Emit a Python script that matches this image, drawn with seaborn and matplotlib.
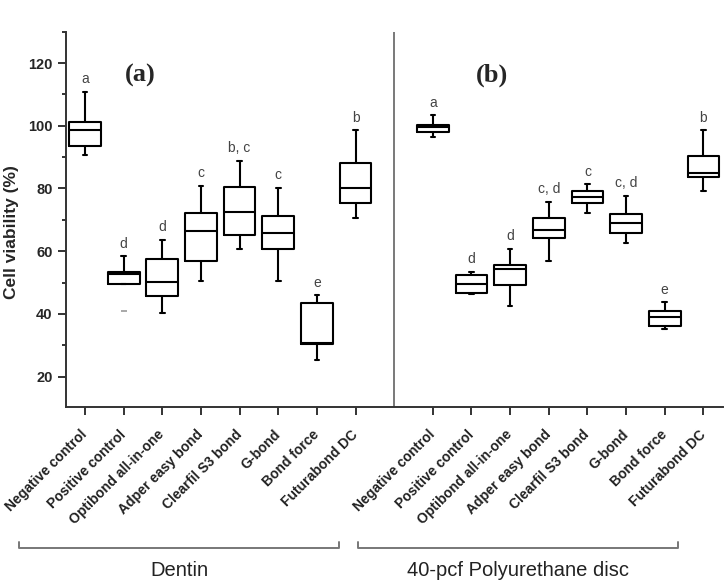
import numpy as np
import pandas as pd
import seaborn as sns
import matplotlib.pyplot as plt
from matplotlib.lines import Line2D
from matplotlib.ticker import AutoMinorLocator

materials = ['Negative control', 'Positive control', 'Optibond all-in-one', 'Adper easy bond',
             'Clearfil S3 bond', 'G-bond', 'Bond force', 'Futurabond DC']

# five-number summaries: Dentin (a), then polyurethane disc (b)
dentin_min = [90.8, 49.5, 40.2, 50.5, 60.8, 50.4, 25.3, 70.6]
dentin_q1 = [93.5, 49.5, 45.8, 57.0, 65.3, 60.8, 30.4, 75.3]
dentin_med = [98.7, 52.6, 50.3, 66.5, 72.4, 65.9, 30.6, 80.2]
dentin_q3 = [101.1, 53.4, 57.4, 72.2, 80.5, 71.2, 43.6, 88.2]
dentin_max = [110.8, 58.3, 63.7, 80.9, 88.8, 80.3, 45.9, 98.6]
dentin_letters = ['a', 'd', 'd', 'c', 'b, c', 'c', 'e', 'b']

pu_min = [96.4, 46.3, 42.5, 56.9, 72.3, 62.5, 35.2, 79.1]
pu_q1 = [98.0, 46.6, 49.2, 64.3, 75.5, 65.9, 36.2, 83.7]
pu_med = [99.6, 49.5, 54.2, 66.7, 77.3, 69.0, 38.9, 85.0]
pu_q3 = [100.4, 52.4, 55.7, 70.7, 79.1, 71.9, 40.9, 90.5]
pu_max = [103.4, 53.4, 60.8, 75.7, 81.4, 77.6, 43.7, 98.6]
pu_letters = ['a', 'd', 'd', 'c, d', 'c', 'c, d', 'e', 'b']

# single outlier shown for the dentin positive control
outlier_pos = [1]
outlier_val = [41.0]

dentin_pos = list(range(8))
pu_pos = list(range(9, 17))

rows = []
for pos, stats in zip(dentin_pos + pu_pos,
                      zip(dentin_min + pu_min, dentin_q1 + pu_q1, dentin_med + pu_med,
                          dentin_q3 + pu_q3, dentin_max + pu_max)):
    for v in stats:
        rows.append({'pos': pos, 'viability': v})
df = pd.DataFrame(rows)

sns.set_style('ticks')
plt.rcParams['font.family'] = ['Liberation Sans', 'DejaVu Sans']

fig = plt.figure(figsize=(7.25, 5.84), dpi=100)
ax = fig.add_axes([0.0906, 0.3026, 0.9062, 0.6431])

sns.boxplot(data=df, x='pos', y='viability', native_scale=True, ax=ax,
            fill=False, color='black', linecolor='black', linewidth=1.5,
            width=0.82, whis=(0, 100), capwidths=0.12, showfliers=False)
sns.scatterplot(x=outlier_pos, y=outlier_val, ax=ax, marker='_', color='#999999',
                s=25, linewidth=1.2)

for pos, top, txt in zip(dentin_pos + pu_pos, dentin_max + pu_max, dentin_letters + pu_letters):
    ax.text(pos, top + 4, txt, ha='center', va='center', fontsize=10, color='#444444')

ax.text(1.44, 116, '(a)', ha='center', va='center', fontsize=19, fontweight='bold',
        family=['Liberation Serif'])
ax.text(10.53, 116, '(b)', ha='center', va='center', fontsize=19, fontweight='bold',
        family=['Liberation Serif'])

ax.axvline(8, color='#555555', lw=1.1)

ax.set_xlim(-0.5, 16.5)
ax.set_ylim(10.2, 130)
ax.set_yticks([20, 40, 60, 80, 100, 120])
ax.yaxis.set_minor_locator(AutoMinorLocator(2))
ax.set_xticks(dentin_pos + pu_pos)
ax.set_xticklabels(materials + materials, rotation=45, ha='right', va='center',
                   rotation_mode='anchor', fontsize=10, fontweight='bold', color='#222222')
for lab in ax.get_yticklabels():
    lab.set_fontweight('bold')
    lab.set_fontsize(10.5)

ax.tick_params(axis='both', which='major', length=6, width=1.4, direction='out', color='#333333')
ax.tick_params(axis='x', pad=12)
ax.tick_params(axis='y', which='minor', length=3, width=1.4, color='#333333')
ax.set_xlabel('')
ax.set_ylabel('Cell viability (%)', fontsize=12.5, fontweight='bold')
ax.yaxis.set_label_coords(-0.071, 0.467)

for side in ['top', 'right']:
    ax.spines[side].set_visible(False)
for side in ['left', 'bottom']:
    ax.spines[side].set_linewidth(1.4)
    ax.spines[side].set_color('#333333')

# group brackets under the tick labels (figure pixel positions)
W, H = 725.0, 584.0
for x0, x1, name in [(19, 339, 'Dentin'), (358, 678, '40-pcf Polyurethane disc')]:
    xs = [x0 / W, x0 / W, x1 / W, x1 / W]
    ys = [1 - 541.5 / H, 1 - 548.3 / H, 1 - 548.3 / H, 1 - 541.5 / H]
    fig.add_artist(Line2D(xs, ys, color='#777777', lw=1.4))
    fig.text((x0 + x1) / 2 / W, 1 - 570 / H, name, ha='center', va='center',
             fontsize=14.5, color='#222222')

fig.savefig('out.png', dpi=100)
